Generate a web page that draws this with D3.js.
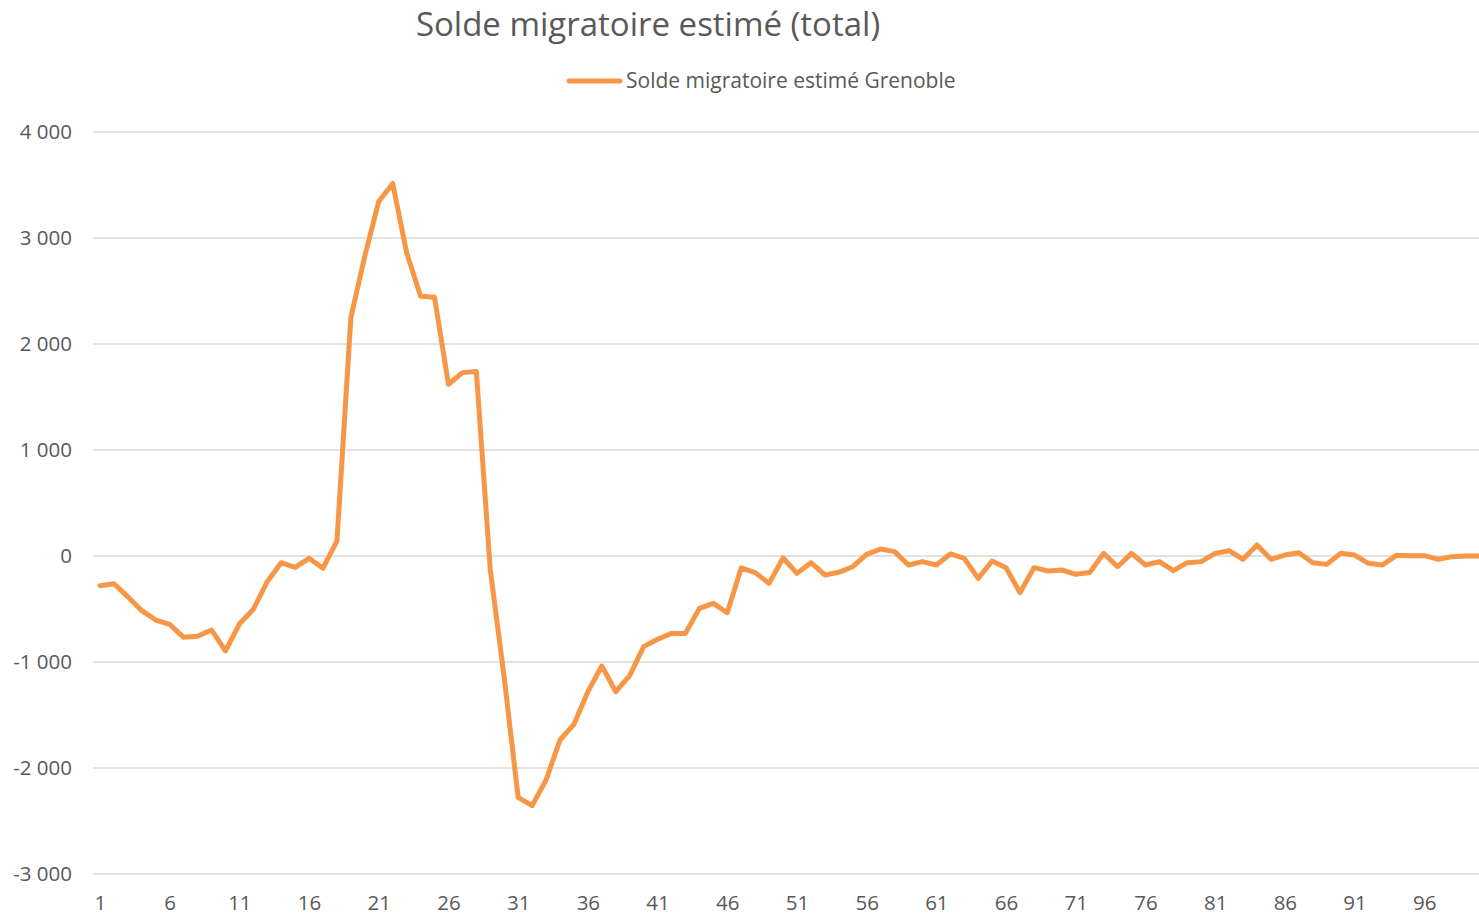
<!DOCTYPE html>
<html>
<head>
<meta charset="utf-8">
<script src="https://cdn.jsdelivr.net/npm/d3@7"></script>
<style>
  html, body { margin: 0; padding: 0; background: #fff; }
  svg { display: block; font-family: "Open Sans", sans-serif; }
</style>
</head>
<body>
<svg id="chart"></svg>
<script>
// values (categories 1..100)
const categories = d3.range(1, 101);
const solde = [
  -280, -261, -385, -516, -604, -645, -767, -758, -698, -896,
  -642, -503, -242, -63, -107, -22, -115, 142, 2250, 2830,
  3345, 3515, 2860, 2450, 2440, 1620, 1730, 1740, -130, -1150,
  -2277, -2355, -2113, -1736, -1588, -1280, -1038, -1280, -1129, -855,
  -786, -730, -730, -494, -447, -535, -113, -157, -258, -19,
  -164, -63, -179, -154, -101, 16, 66, 41, -85, -53,
  -85, 19, -22, -211, -47, -110, -346, -110, -142, -132,
  -173, -155, 25, -101, 25, -85, -53, -138, -63, -53,
  25, 50, -31, 104, -31, 9, 31, -63, -79, 25,
  9, -69, -85, 6, 3, 3, -31, -6, 0, 0
];
const yTicks = [-3000, -2000, -1000, 0, 1000, 2000, 3000, 4000];
const xTickLabels = d3.range(1, 101, 5);

const titleText = "Solde migratoire estimé (total)";
const seriesName = "Solde migratoire estimé Grenoble";

const width = 1479, height = 916;
const svg = d3.select("#chart").attr("width", width).attr("height", height);

const x = d3.scalePoint()
  .domain(categories)
  .range([93, 1487])
  .padding(0.5);

const y = d3.scaleLinear()
  .domain([-3000, 4000])
  .range([874, 132]);

const frNum = d3.formatLocale({ decimal: ",", thousands: "\u00a0", grouping: [3], currency: ["", " €"], minus: "-" }).format(",d");

// gridlines
svg.append("g")
  .selectAll("line")
  .data(yTicks)
  .join("line")
  .attr("x1", 93)
  .attr("x2", width)
  .attr("y1", d => y(d))
  .attr("y2", d => y(d))
  .attr("stroke", "#d9d9d9")
  .attr("stroke-width", 1.5);

// y axis labels
const yAxis = d3.axisLeft(y).tickValues(yTicks).tickSize(0).tickPadding(0).tickFormat(frNum);
svg.append("g")
  .attr("transform", "translate(72,0)")
  .call(yAxis)
  .call(g => g.select(".domain").remove())
  .selectAll("text")
  .attr("font-size", 20.5)
  .attr("font-family", "'Open Sans', sans-serif")
  .attr("fill", "#595959");

// x axis labels
const xAxis = d3.axisBottom(x).tickValues(xTickLabels).tickSize(0).tickPadding(0);
svg.append("g")
  .attr("transform", "translate(0,895)")
  .call(xAxis)
  .call(g => g.select(".domain").remove())
  .selectAll("text")
  .attr("font-size", 20.5)
  .attr("font-family", "'Open Sans', sans-serif")
  .attr("fill", "#595959");

// the line
const line = d3.line()
  .x((d, i) => x(categories[i]))
  .y(d => y(d));

svg.append("path")
  .datum(solde)
  .attr("d", line)
  .attr("fill", "none")
  .attr("stroke", "#f79646")
  .attr("stroke-width", 5)
  .attr("stroke-linejoin", "round")
  .attr("stroke-linecap", "round");

// title
svg.append("text")
  .attr("x", 648)
  .attr("y", 36)
  .attr("text-anchor", "middle")
  .attr("font-size", 33)
  .attr("fill", "#595959")
  .text(titleText);

// legend
svg.append("line")
  .attr("x1", 569).attr("x2", 620)
  .attr("y1", 81).attr("y2", 81)
  .attr("stroke", "#f79646")
  .attr("stroke-width", 5)
  .attr("stroke-linecap", "round");
svg.append("text")
  .attr("x", 626)
  .attr("y", 88)
  .attr("font-size", 21)
  .attr("fill", "#595959")
  .text(seriesName);
</script>
</body>
</html>
